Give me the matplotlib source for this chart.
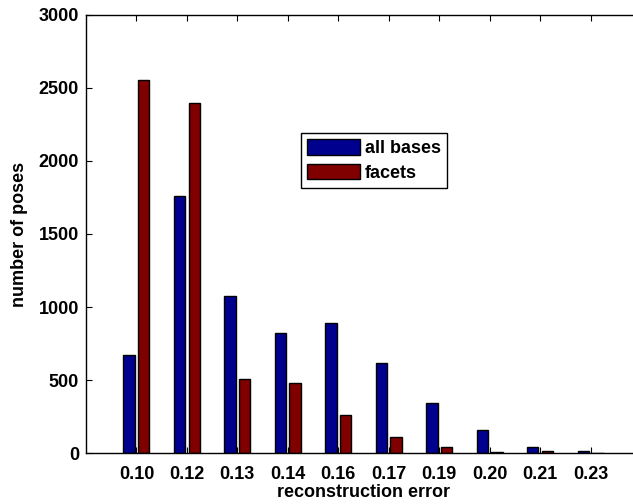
import matplotlib
matplotlib.use("Agg")
import matplotlib.pyplot as plt
import numpy as np

error_bins = ["0.10", "0.12", "0.13", "0.14", "0.16", "0.17", "0.19", "0.20", "0.21", "0.23"]
all_bases = [672, 1757, 1077, 821, 893, 620, 342, 160, 43, 18]
facets = [2555, 2398, 506, 479, 265, 114, 41, 8, 18, 2]
series_names = ["all bases", "facets"]

plt.rcParams["font.family"] = ["Liberation Sans", "DejaVu Sans"]
plt.rcParams["font.weight"] = "bold"

FS = 13
W, H = 633, 504
fig = plt.figure(figsize=(W / 100, H / 100), dpi=100)
left, right, top, bottom = 86, 641, 14.7, 453.3
ax = fig.add_axes([left / W, 1 - bottom / H, (right - left) / W, (bottom - top) / H])

x = np.arange(1, len(error_bins) + 1)
bw = 0.225
off = 0.145
ax.bar(x - off, all_bases, width=bw, color="#00008F", edgecolor="black", linewidth=1.0,
       label=series_names[0], zorder=2)
ax.bar(x + off, facets, width=bw, color="#800000", edgecolor="black", linewidth=1.0,
       label=series_names[1], zorder=2)

ax.set_xlim(0, 11)
ax.set_ylim(0, 3000)
ax.set_xticks(x)
ax.set_xticklabels(error_bins)
ax.set_yticks(np.arange(0, 3001, 500))
ax.tick_params(direction="in", top=True, right=True, length=4, width=0.8,
               labelsize=FS)
ax.tick_params(axis="x", pad=9)
ax.tick_params(axis="y", pad=5)
for lab in ax.get_xticklabels() + ax.get_yticklabels():
    lab.set_fontweight("bold")
for s in ax.spines.values():
    s.set_linewidth(1.0)

ax.set_xlabel("reconstruction error", fontsize=FS, fontweight="bold", labelpad=1)
ax.set_ylabel("number of poses", fontsize=FS, fontweight="bold", labelpad=8)

leg = ax.legend(loc="upper left", bbox_to_anchor=(301 / W, 1 - 133 / H),
                bbox_transform=fig.transFigure, borderaxespad=0, fancybox=False,
                edgecolor="black", framealpha=1, handlelength=2.9,
                handleheight=0.95, handletextpad=0.3, labelspacing=0.35,
                borderpad=0.35, prop={"weight": "bold", "size": FS})
leg.get_frame().set_linewidth(1.0)

fig.savefig("out.png", dpi=100)
